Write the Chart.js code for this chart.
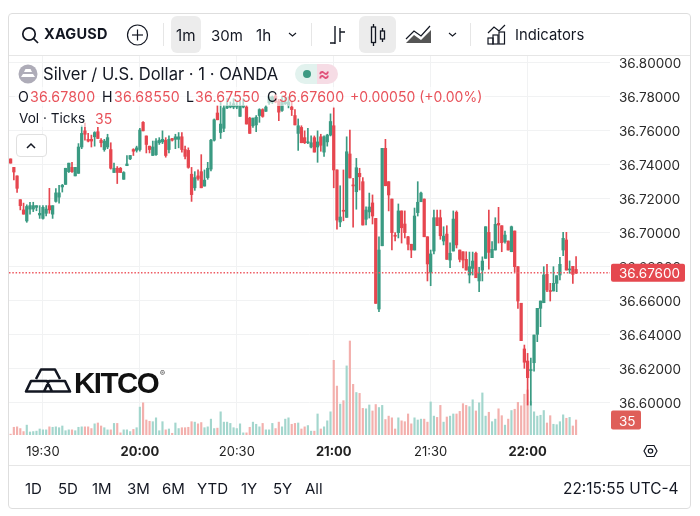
<!DOCTYPE html>
<html>
<head>
<meta charset="utf-8">
<title>XAGUSD</title>
<script src="https://cdn.jsdelivr.net/npm/chart.js"></script>
<style>
  html, body { margin: 0; padding: 0; background: #fff; }
  body { width: 700px; height: 516px; position: relative; overflow: hidden; font-family: Inter, "Noto Sans", sans-serif; color: #131722; }
  #chart { position: absolute; left: 0; top: 0; }
  .frame { position: absolute; left: 8px; top: 13px; width: 681px; height: 494px; border: 1.5px solid #dedede; border-radius: 4px; }
  .rule { position: absolute; background: #e6e6e6; }
  .t { position: absolute; white-space: nowrap; line-height: 1; }
  .btn { position: absolute; top: 16px; height: 37px; background: #ececec; border-radius: 6px; }
  .red { color: #e8525a; }
  .veil { position: absolute; background: rgba(255,255,255,.62); }
  svg { position: absolute; overflow: visible; fill: none; stroke: #131722; }
</style>
</head>
<body>
<canvas id="chart" width="700" height="516"></canvas>

<div class="frame"></div>
<div class="rule" style="left:9px;top:55px;width:681px;height:1px"></div>
<div class="rule" style="left:9px;top:465px;width:681px;height:1px"></div>

<!-- toolbar -->
<svg style="left:0;top:0" width="1" height="1" stroke-width="1.7"><circle cx="29" cy="34" r="6.2"/><line x1="33.5" y1="38.5" x2="38" y2="43"/></svg>
<div class="t" style="left:44px;top:27px;font-size:14.5px;font-weight:700;letter-spacing:.2px">XAGUSD</div>
<svg style="left:0;top:0" width="1" height="1" stroke-width="1.2"><circle cx="137.5" cy="35" r="10"/><line x1="132" y1="35" x2="143" y2="35"/><line x1="137.5" y1="29.5" x2="137.5" y2="40.5"/></svg>
<div class="rule" style="left:163px;top:23px;width:1px;height:23px"></div>
<div class="btn" style="left:171px;width:30px"></div>
<div class="t" style="left:176px;top:28px;font-size:15.2px">1m</div>
<div class="t" style="left:211px;top:28px;font-size:15px">30m</div>
<div class="t" style="left:256px;top:28px;font-size:15.2px">1h</div>
<svg style="left:0;top:0" width="1" height="1" stroke-width="1.1"><polyline points="289,33 292.5,36 296,33"/></svg>
<div class="rule" style="left:311px;top:23px;width:1px;height:23px"></div>
<svg style="left:0;top:0" width="1" height="1" stroke-width="1.4"><path d="M335 26V44M335 43H330M340 28V42M340 32H345"/></svg>
<div class="btn" style="left:359px;width:37px"></div>
<svg style="left:0;top:0" width="1" height="1" stroke-width="1.3"><rect x="371.5" y="27" width="4" height="15.5"/><line x1="373.5" y1="24" x2="373.5" y2="27"/><line x1="373.5" y1="42.5" x2="373.5" y2="46"/><rect x="380.5" y="31" width="4" height="8"/><line x1="382.5" y1="28" x2="382.5" y2="31"/><line x1="382.5" y1="39" x2="382.5" y2="42"/></svg>
<svg style="left:0;top:0" width="1" height="1" stroke-width="1.2"><path d="M406 39L414 31L421 36L430 26" /><path d="M406 43L414 35L421 40L431 30V43Z" fill="#555" stroke="none"/></svg>
<svg style="left:0;top:0" width="1" height="1" stroke-width="1.1"><polyline points="449,33 452.5,36 456,33"/></svg>
<div class="rule" style="left:470px;top:23px;width:1px;height:23px"></div>
<svg style="left:0;top:0" width="1" height="1" stroke-width="1.2"><path d="M488 33L494 27L499 31L505 25"/><rect x="488" y="38" width="5" height="6"/><rect x="493" y="35" width="5" height="9"/><rect x="499" y="32" width="5.5" height="12"/></svg>
<div class="t" style="left:515px;top:28px;font-size:14.8px">Indicators</div>

<!-- legend -->
<div class="veil" style="left:15px;top:87px;width:470px;height:19px"></div>
<div class="veil" style="left:15px;top:108px;width:102px;height:19px"></div>
<svg style="left:0;top:0" width="1" height="1"><circle cx="28" cy="74" r="9.5" fill="#aeacb8" stroke="none"/><path d="M25.5 69H30.5L32 72H24ZM21 77L23 74H33L35 77Z" fill="#fff" stroke="none"/></svg>
<div class="t" style="left:43px;top:66px;font-size:16.6px">Silver / U.S. Dollar · 1 · OANDA</div>
<div style="position:absolute;left:295px;top:64px;width:22px;height:20px;background:#e2f2ee;border-radius:10px 0 0 10px"></div>
<div style="position:absolute;left:317px;top:64px;width:21px;height:20px;background:#f6dce5;border-radius:0 10px 10px 0"></div>
<svg style="left:0;top:0" width="1" height="1"><circle cx="307" cy="74" r="4" fill="#3d9a83" stroke="none"/></svg>
<div class="t" style="left:318px;top:65px;font-size:18px;font-weight:600;color:#e0527a">≈</div>
<div class="t" style="left:18px;top:90px;font-size:14.2px">O</div><div class="t red" style="left:30px;top:90px;font-size:14.2px;letter-spacing:.15px">36.67800</div>
<div class="t" style="left:102px;top:90px;font-size:14.2px">H</div><div class="t red" style="left:114px;top:90px;font-size:14.2px;letter-spacing:.15px">36.68550</div>
<div class="t" style="left:186px;top:90px;font-size:14.2px">L</div><div class="t red" style="left:195px;top:90px;font-size:14.2px;letter-spacing:.15px">36.67550</div>
<div class="t" style="left:267px;top:90px;font-size:14.2px">C</div><div class="t red" style="left:279px;top:90px;font-size:14.2px;letter-spacing:.15px">36.67600</div>
<div class="t red" style="left:350px;top:90px;font-size:14px">+0.00050 (+0.00%)</div>
<div class="t" style="left:19px;top:112px;font-size:13.6px">Vol · Ticks</div><div class="t red" style="left:95px;top:112px;font-size:14px">35</div>
<div style="position:absolute;left:16px;top:134px;width:29px;height:21px;background:#fff;border:1px solid #e0e0e0;border-radius:4px"></div>
<svg style="left:0;top:0" width="1" height="1" stroke-width="1.5"><polyline points="27,148 31,144 35,148"/></svg>

<!-- logo -->
<svg style="left:0;top:0" width="1" height="1" stroke="#111" stroke-width="2.6" stroke-linejoin="round"><path d="M36 379L41 369.5H55L60 379M26 391.5L31 381H47L52 391.5ZM44 391.5L49 381H65L70 391.5Z"/></svg>
<div class="t" style="left:74px;top:368px;font-family:'Liberation Sans',Inter,sans-serif;font-size:29.5px;font-weight:700;letter-spacing:-1.5px;color:#111">KITCO</div>
<div class="t" style="left:160px;top:370px;font-size:7.5px;color:#333">®</div>

<!-- settings -->
<svg style="left:0;top:0" width="1" height="1" stroke-width="1.2"><path d="M644 451L647 445.5H654L657 451L654 456.5H647Z"/><circle cx="650.5" cy="451" r="2.2"/></svg>

<!-- range bar -->
<div class="t" style="left:25px;top:481px;font-size:15px">1D</div>
<div class="t" style="left:58px;top:481px;font-size:15px">5D</div>
<div class="t" style="left:92px;top:481px;font-size:15px">1M</div>
<div class="t" style="left:127px;top:481px;font-size:15px">3M</div>
<div class="t" style="left:162px;top:481px;font-size:15px">6M</div>
<div class="t" style="left:197px;top:481px;font-size:15px">YTD</div>
<div class="t" style="left:241px;top:481px;font-size:15px">1Y</div>
<div class="t" style="left:273px;top:481px;font-size:15px">5Y</div>
<div class="t" style="left:305px;top:481px;font-size:15px">All</div>
<div class="t" style="left:563px;top:481px;font-size:15.4px">22:15:55 UTC-4</div>

<script>
// one candle per minute from 19:20 to 22:15
const opens = [
  36.743, 36.738, 36.733, 36.719, 36.713, 36.7065, 36.7135, 36.7135, 36.7145, 36.71,
  36.708, 36.711, 36.7155, 36.7105, 36.718, 36.7205, 36.7265, 36.728, 36.7355, 36.738,
  36.733, 36.7345, 36.75, 36.7595, 36.7545, 36.7545, 36.756, 36.759, 36.754, 36.7485,
  36.75, 36.7485, 36.735, 36.7375, 36.7375, 36.731, 36.739, 36.743, 36.7485, 36.748,
  36.7485, 36.7645, 36.7565, 36.7505, 36.745, 36.7455, 36.7525, 36.753, 36.754, 36.7485,
  36.755, 36.7545, 36.7545, 36.756, 36.7485, 36.748, 36.734, 36.726, 36.733, 36.7355,
  36.727, 36.732, 36.737, 36.754, 36.77, 36.7585, 36.761, 36.773, 36.7735, 36.7735,
  36.7735, 36.768, 36.7735, 36.7735, 36.767, 36.7625, 36.763, 36.7685, 36.772, 36.771,
  36.776, 36.7765, 36.78, 36.777, 36.7715, 36.7755, 36.7745, 36.7735, 36.7685, 36.758,
  36.7615, 36.7555, 36.7525, 36.75, 36.7555, 36.75, 36.756, 36.747, 36.753, 36.757,
  36.7625, 36.7365, 36.7059, 36.7127, 36.7086, 36.7459, 36.7277, 36.7237, 36.7345, 36.7296,
  36.7075, 36.7118, 36.7171, 36.708, 36.6547, 36.6919, 36.7492, 36.7296, 36.7194, 36.6981,
  36.6996, 36.7124, 36.7047, 36.6972, 36.6928, 36.6894, 36.7114, 36.7178, 36.7194, 36.6972,
  36.6763, 36.6888, 36.7084, 36.7084, 36.6947, 36.6988, 36.6835, 36.6888, 36.7116, 36.6894,
  36.6884, 36.6839, 36.6747, 36.6786, 36.6875, 36.6712, 36.6776, 36.6845, 36.6998, 36.6849,
  36.6894, 36.7051, 36.7037, 36.6943, 36.6947, 36.6884, 36.7006, 36.6796, 36.6581, 36.6312,
  36.6241, 36.6185, 36.6231, 36.6398, 36.6551, 36.6584, 36.6751, 36.6656, 36.6653, 36.6698,
  36.6747, 36.6894, 36.6953, 36.6777, 36.6798, 36.678
];
const highs = [
  36.743, 36.738, 36.733, 36.719, 36.717, 36.716, 36.7175, 36.7175, 36.7155, 36.7155,
  36.7155, 36.7155, 36.7257, 36.7155, 36.7255, 36.7275, 36.728, 36.7375, 36.7405, 36.741,
  36.738, 36.752, 36.7625, 36.764, 36.758, 36.757, 36.759, 36.7615, 36.755, 36.7545,
  36.7575, 36.7525, 36.7405, 36.7385, 36.738, 36.7355, 36.745, 36.745, 36.749, 36.7505,
  36.761, 36.765, 36.7565, 36.7505, 36.7535, 36.755, 36.7555, 36.7595, 36.7555, 36.7565,
  36.755, 36.7575, 36.7585, 36.7585, 36.7505, 36.7495, 36.738, 36.7355, 36.7365, 36.7455,
  36.7365, 36.741, 36.7545, 36.7665, 36.7745, 36.7765, 36.7745, 36.7785, 36.7765, 36.7785,
  36.7765, 36.777, 36.7785, 36.7745, 36.7675, 36.767, 36.7685, 36.7725, 36.7725, 36.7745,
  36.7795, 36.78, 36.781, 36.778, 36.78, 36.7795, 36.7795, 36.7765, 36.772, 36.7665,
  36.7625, 36.7595, 36.761, 36.7565, 36.7565, 36.7595, 36.7575, 36.7565, 36.7575, 36.7695,
  36.773, 36.7365, 36.7272, 36.7365, 36.756, 36.76, 36.7316, 36.7433, 36.7375, 36.732,
  36.7148, 36.7229, 36.7218, 36.708, 36.6972, 36.7492, 36.7545, 36.7296, 36.7194, 36.6996,
  36.7165, 36.7124, 36.7124, 36.6975, 36.6928, 36.7141, 36.7296, 36.7235, 36.7194, 36.6972,
  36.6894, 36.7129, 36.7129, 36.7129, 36.7031, 36.7037, 36.6937, 36.7124, 36.7124, 36.6894,
  36.6884, 36.6884, 36.6882, 36.6882, 36.6882, 36.6792, 36.6854, 36.7031, 36.7129, 36.6943,
  36.7084, 36.7145, 36.7037, 36.7006, 36.6947, 36.7035, 36.7006, 36.6796, 36.6581, 36.6335,
  36.6286, 36.6259, 36.6394, 36.6551, 36.6594, 36.6796, 36.681, 36.6698, 36.6796, 36.6743,
  36.6851, 36.6998, 36.6998, 36.683, 36.6798, 36.6855
];
const lows = [
  36.7405, 36.7306, 36.7233, 36.713, 36.7105, 36.7057, 36.7105, 36.712, 36.7125, 36.708,
  36.7075, 36.7095, 36.711, 36.708, 36.7175, 36.717, 36.7235, 36.728, 36.735, 36.735,
  36.733, 36.7345, 36.749, 36.754, 36.753, 36.75, 36.7505, 36.755, 36.75, 36.7475,
  36.749, 36.737, 36.735, 36.7285, 36.735, 36.731, 36.739, 36.7425, 36.745, 36.747,
  36.7475, 36.7595, 36.7465, 36.7465, 36.745, 36.745, 36.7515, 36.752, 36.744, 36.7465,
  36.7535, 36.749, 36.7495, 36.747, 36.743, 36.7375, 36.718, 36.7245, 36.7305, 36.726,
  36.727, 36.731, 36.736, 36.7535, 36.766, 36.755, 36.759, 36.7725, 36.773, 36.7725,
  36.7725, 36.768, 36.773, 36.7635, 36.758, 36.7615, 36.759, 36.7645, 36.7675, 36.771,
  36.775, 36.7755, 36.776, 36.7655, 36.771, 36.775, 36.773, 36.7685, 36.763, 36.748,
  36.7525, 36.752, 36.752, 36.7495, 36.747, 36.741, 36.7475, 36.7445, 36.7505, 36.7565,
  36.726, 36.7016, 36.7031, 36.7066, 36.7086, 36.7318, 36.7028, 36.7134, 36.7247, 36.7041,
  36.7041, 36.7082, 36.7047, 36.658, 36.6531, 36.6919, 36.7272, 36.7124, 36.6894, 36.6947,
  36.6965, 36.6935, 36.6965, 36.6894, 36.6849, 36.6894, 36.7094, 36.7178, 36.6972, 36.6712,
  36.6684, 36.6871, 36.7037, 36.6957, 36.6924, 36.6839, 36.679, 36.6888, 36.6906, 36.6824,
  36.6788, 36.6776, 36.67, 36.6747, 36.6731, 36.6649, 36.6712, 36.6845, 36.6782, 36.6849,
  36.6894, 36.6935, 36.6884, 36.6935, 36.6894, 36.6884, 36.6766, 36.6551, 36.6361, 36.6198,
  36.5982, 36.5982, 36.6182, 36.6355, 36.6443, 36.6584, 36.6649, 36.6594, 36.6653, 36.6649,
  36.6718, 36.6861, 36.6776, 36.6757, 36.6698, 36.6755
];
const closes = [
  36.7405, 36.7353, 36.7257, 36.7155, 36.7105, 36.715, 36.7155, 36.7155, 36.7155, 36.711,
  36.7145, 36.7135, 36.713, 36.7155, 36.723, 36.723, 36.7275, 36.7375, 36.7405, 36.7355,
  36.738, 36.75, 36.758, 36.7575, 36.7535, 36.7535, 36.7585, 36.755, 36.7525, 36.7535,
  36.7555, 36.7375, 36.7375, 36.735, 36.735, 36.735, 36.74, 36.745, 36.7475, 36.7495,
  36.76, 36.7595, 36.7515, 36.7485, 36.75, 36.7535, 36.754, 36.7545, 36.745, 36.7545,
  36.754, 36.756, 36.756, 36.7485, 36.7445, 36.738, 36.722, 36.732, 36.7315, 36.726,
  36.7305, 36.7375, 36.754, 36.766, 36.766, 36.7635, 36.773, 36.7745, 36.7745, 36.7755,
  36.7745, 36.7745, 36.7745, 36.7635, 36.758, 36.767, 36.7675, 36.772, 36.768, 36.7735,
  36.7795, 36.7795, 36.7765, 36.7705, 36.7765, 36.7765, 36.7765, 36.772, 36.763, 36.7625,
  36.7525, 36.7525, 36.753, 36.7525, 36.747, 36.753, 36.751, 36.756, 36.757, 36.765,
  36.7365, 36.707, 36.7088, 36.7122, 36.7472, 36.7318, 36.7271, 36.7378, 36.7325, 36.7041,
  36.7129, 36.7147, 36.7094, 36.658, 36.6894, 36.7492, 36.7272, 36.7218, 36.6996, 36.6975,
  36.7124, 36.7025, 36.6996, 36.6928, 36.6894, 36.7094, 36.7175, 36.7229, 36.6972, 36.6812,
  36.6871, 36.7084, 36.7037, 36.6978, 36.6976, 36.6839, 36.6875, 36.7076, 36.6924, 36.6839,
  36.6835, 36.6776, 36.6796, 36.6829, 36.6731, 36.6757, 36.6829, 36.7031, 36.688, 36.6898,
  36.7045, 36.7041, 36.6937, 36.6982, 36.6894, 36.7031, 36.6796, 36.6594, 36.6361, 36.6234,
  36.6143, 36.6191, 36.6394, 36.6551, 36.6594, 36.6747, 36.6659, 36.665, 36.6698, 36.6743,
  36.681, 36.6963, 36.6776, 36.6782, 36.6751, 36.676
];
const volumes = [
  2, 18, 19, 15, 8, 23, 7, 8, 9, 14,
  12, 12, 19, 18, 19, 17, 21, 10, 12, 12,
  10, 18, 19, 19, 19, 15, 26, 28, 21, 17,
  12, 12, 27, 27, 5, 12, 12, 8, 13, 17,
  65, 75, 35, 32, 31, 40, 10, 31, 12, 14,
  4, 28, 15, 17, 17, 18, 31, 30, 26, 29,
  17, 19, 37, 15, 16, 54, 30, 30, 27, 17,
  15, 26, 5, 5, 18, 30, 25, 19, 27, 12,
  12, 27, 15, 30, 19, 37, 40, 25, 27, 28,
  14, 19, 22, 9, 9, 49, 14, 19, 33, 54,
  174, 114, 72, 80, 161, 219, 118, 99, 97, 62,
  61, 70, 56, 71, 64, 69, 36, 44, 40, 14,
  40, 33, 31, 49, 26, 40, 35, 37, 37, 30,
  77, 44, 41, 69, 30, 42, 44, 49, 49, 55,
  73, 69, 66, 82, 56, 75, 98, 44, 53, 31,
  37, 61, 45, 23, 37, 57, 60, 76, 68, 95,
  105, 78, 54, 44, 46, 57, 28, 45, 25, 24,
  31, 47, 39, 41, 21, 35
];
const xTickLabels = ['19:30', '20:00', '20:30', '21:00', '21:30', '22:00'];
const priceTicks = [36.6, 36.62, 36.64, 36.66, 36.68, 36.7, 36.72, 36.74, 36.76, 36.78, 36.8];
const lastPrice = 36.676;
const lastVolume = 35;

const GREEN = '#3a9a82';
const RED = '#e6464f';
const GREEN_VOL = '#a3d6cd';
const RED_VOL = '#f3b0ad';
const GRID = '#f1f2f3';

// the time axis runs on past the last candle, to the edge of the plot
const minuteLabels = [];
for (let m = 19 * 60 + 20; minuteLabels.length < 186; m++) {
  minuteLabels.push(Math.floor(m / 60) + ':' + String(m % 60).padStart(2, '0'));
}

const isUp = opens.map((o, i) => closes[i] >= o);
const candleColors = isUp.map(u => (u ? GREEN : RED));
const volumeColors = isUp.map(u => (u ? GREEN_VOL : RED_VOL));

function drawTag(ctx, x, y, w, h, fill, text) {
  ctx.fillStyle = fill;
  ctx.beginPath();
  ctx.roundRect(x, y - h / 2, w, h, 2);
  ctx.fill();
  ctx.fillStyle = '#fff';
  ctx.font = '13.5px Inter';
  ctx.textBaseline = 'middle';
  ctx.textAlign = 'left';
  ctx.fillText(text, x + 8, y + 1.5);
}

const lastPricePlugin = {
  id: 'lastPrice',
  afterDraw(chart) {
    const { ctx, chartArea, scales } = chart;
    const y = scales.y.getPixelForValue(lastPrice);
    ctx.save();
    ctx.strokeStyle = '#ee5a62';
    ctx.lineWidth = 1.5;
    ctx.setLineDash([1.5, 1.8]);
    ctx.beginPath();
    ctx.moveTo(chartArea.left, y);
    ctx.lineTo(chartArea.right, y);
    ctx.stroke();
    ctx.setLineDash([]);
    drawTag(ctx, chartArea.right + 1, y, 74, 18, '#e5484f', lastPrice.toFixed(5));
    drawTag(ctx, chartArea.right + 1, scales.v.getPixelForValue(lastVolume), 30, 19, '#df5f59', String(lastVolume));
    ctx.restore();
  }
};

new Chart(document.getElementById('chart').getContext('2d'), {
  type: 'bar',
  data: {
    labels: minuteLabels,
    datasets: [
      { data: opens.map((o, i) => [o, closes[i]]), backgroundColor: candleColors, barThickness: 2.6, minBarLength: 1, grouped: false, order: 1 },
      { data: lows.map((l, i) => [l, highs[i]]), backgroundColor: candleColors, barThickness: 1, grouped: false, order: 2 },
      { data: volumes, yAxisID: 'v', backgroundColor: volumeColors, barThickness: 1.5, grouped: false, order: 3 }
    ]
  },
  options: {
    responsive: false,
    animation: false,
    events: [],
    layout: { padding: { left: 9, top: 56, right: 0, bottom: 50 } },
    plugins: { legend: { display: false }, tooltip: { enabled: false } },
    scales: {
      x: {
        offset: true,
        afterBuildTicks: s => { s.ticks = s.ticks.filter(t => xTickLabels.includes(minuteLabels[t.value])); },
        afterFit: s => { s.height = 31; },
        grid: { color: GRID, offset: false, drawTicks: false },
        border: { display: false },
        ticks: {
          autoSkip: false,
          maxRotation: 0,
          padding: 9,
          color: '#222',
          font: c => ({ family: 'Inter', size: 13, weight: String(c.tick.label).endsWith(':00') ? 700 : 400 })
        }
      },
      y: {
        position: 'right',
        min: 36.58059,
        max: 36.80353,
        afterBuildTicks: s => { s.ticks = priceTicks.map(value => ({ value })); },
        afterFit: s => { s.width = 90; },
        grid: { color: GRID, drawTicks: false },
        border: { display: false },
        ticks: { padding: 9, labelOffset: 2, color: '#2a2a2a', font: { family: 'Inter', size: 13.5 }, callback: v => v.toFixed(5) }
      },
      v: { display: false, min: 0, max: 883 }
    }
  },
  plugins: [lastPricePlugin]
});
</script>
</body>
</html>
